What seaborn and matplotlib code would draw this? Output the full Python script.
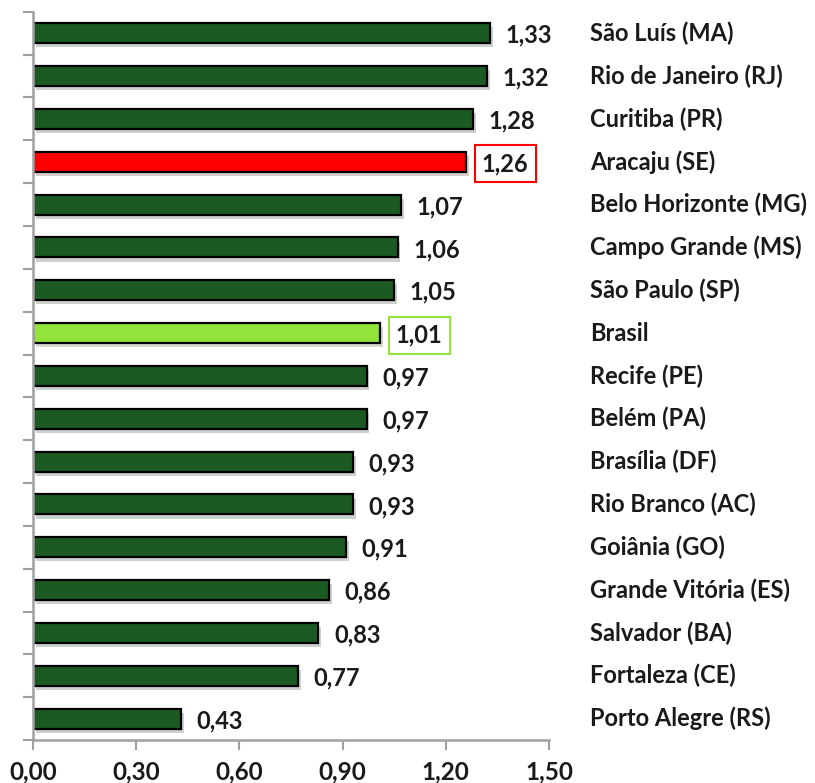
import seaborn as sns
import matplotlib.pyplot as plt
import matplotlib.patheffects as pe
import pandas as pd

# data (top to bottom)
cidades = ["São Luís (MA)", "Rio de Janeiro (RJ)", "Curitiba (PR)", "Aracaju (SE)",
           "Belo Horizonte (MG)", "Campo Grande (MS)", "São Paulo (SP)", "Brasil",
           "Recife (PE)", "Belém (PA)", "Brasília (DF)", "Rio Branco (AC)",
           "Goiânia (GO)", "Grande Vitória (ES)", "Salvador (BA)", "Fortaleza (CE)",
           "Porto Alegre (RS)"]
valores = [1.33, 1.32, 1.28, 1.26, 1.07, 1.06, 1.05, 1.01, 0.97, 0.97, 0.93, 0.93,
           0.91, 0.86, 0.83, 0.77, 0.43]

verde = "#1b5a22"
cores = {"Aracaju (SE)": "#ff0000", "Brasil": "#92e33a"}
paleta = [cores.get(c, verde) for c in cidades]

df = pd.DataFrame({"cidade": cidades, "valor": valores})

sns.set_style("white")
plt.rcParams["font.family"] = ["Lato", "DejaVu Sans"]
plt.rcParams["font.weight"] = "bold"

fig = plt.figure(figsize=(8.15, 7.83), dpi=100)
ax = fig.add_axes([0.0405, 0.0549, 0.633, 0.93])

sns.barplot(data=df, x="valor", y="cidade", hue="cidade", palette=paleta,
            saturation=1, legend=False, width=0.47, edgecolor="black",
            linewidth=1.6, ax=ax)

# light shadow under the bars
for p in ax.patches:
    p.set_path_effects([pe.SimplePatchShadow(offset=(2, -3), alpha=0.2), pe.Normal()])

# value labels
for i, (c, v) in enumerate(zip(cidades, valores)):
    txt = f"{v:.2f}".replace(".", ",")
    kw = {}
    if c in cores:
        kw["bbox"] = dict(boxstyle="square,pad=0.3", facecolor="white",
                          edgecolor=cores[c], linewidth=1.5)
    ax.text(v + 0.045, i + 0.05, txt, va="center", ha="left", fontsize=17,
            fontweight="bold", color="#1a1a1a", **kw)
    # city name on the right
    ax.text(1.62, i, c, va="center", ha="left", fontsize=17, fontweight="bold",
            color="#1a1a1a", clip_on=False)

ax.set_xlim(0, 1.5)
ax.set_ylim(len(cidades) - 0.5, -0.5)
ax.set_xticks([0, 0.3, 0.6, 0.9, 1.2, 1.5])
ax.set_xticklabels([f"{t:.2f}".replace(".", ",") for t in [0, 0.3, 0.6, 0.9, 1.2, 1.5]],
                   fontsize=17.5, fontweight="bold", color="#1a1a1a")
ax.set_yticks([i - 0.5 for i in range(len(cidades) + 1)])
ax.set_yticklabels([])
ax.tick_params(axis="both", length=7, width=1.5, color="#a0a0a0", pad=8,
               direction="out", left=True, bottom=True)
ax.set_xlabel("")
ax.set_ylabel("")

sns.despine(ax=ax, top=True, right=True)
for s in ["left", "bottom"]:
    ax.spines[s].set_color("#a0a0a0")
    ax.spines[s].set_linewidth(1.8)

fig.savefig("out.png", dpi=100)
